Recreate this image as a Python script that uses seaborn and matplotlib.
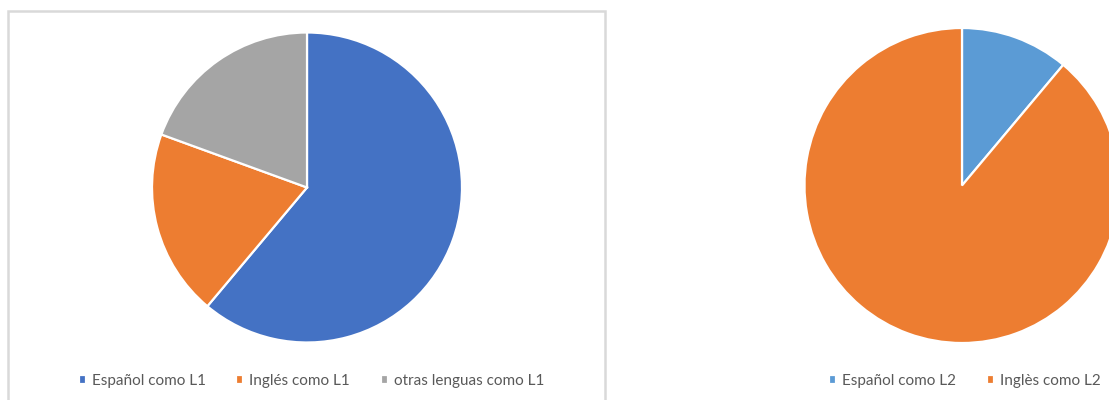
import matplotlib
matplotlib.use("Agg")
import matplotlib.pyplot as plt
from matplotlib.patches import Rectangle
import seaborn as sns

# respondents per first / second language (counts)
l1_labels = ["Español como L1", "Inglés como L1", "otras lenguas como L1"]
l1_counts = [22, 7, 7]

l2_labels = ["Español como L2", "Inglès como L2"]
l2_counts = [4, 32]

l1_colors = ["#4472C4", "#ED7D31", "#A5A5A5"]
l2_colors = ["#5B9BD5", "#ED7D31"]

sns.set_theme(style="white")
plt.rcParams["font.family"] = ["Lato", "DejaVu Sans"]

W, H = 1109, 400
fig = plt.figure(figsize=(W / 100, H / 100), dpi=100)
fig.patch.set_facecolor("white")

# chart frame around the left pie (excel style)
fig.patches.append(Rectangle((8 / W, -0.05), (605 - 8) / W, (400 - 11) / H + 0.05,
                             transform=fig.transFigure, fill=False,
                             edgecolor="#d9d9d9", linewidth=1.8, zorder=0))


def draw_pie(rect, counts, colors):
    ax = fig.add_axes(rect)
    wedges, _ = ax.pie(counts, colors=colors, startangle=90, counterclock=False,
                       radius=1.0, wedgeprops=dict(edgecolor="white", linewidth=1.6))
    ax.set_xlim(-1, 1)
    ax.set_ylim(-1, 1)
    ax.set_aspect("equal")
    ax.axis("off")
    return wedges


w1 = draw_pie([152 / W, (400 - 342.5) / H, 310 / W, 310 / H], l1_counts, l1_colors)
w2 = draw_pie([804.5 / W, (400 - 343) / H, 315 / W, 315 / H], l2_counts, l2_colors)

leg_kw = dict(loc="center", frameon=False, fontsize=11, labelcolor="#595959",
              handlelength=0.45, handleheight=0.45, handletextpad=0.4,
              columnspacing=2.0)
fig.legend(w1, l1_labels, ncol=3, bbox_to_anchor=(311.5 / W, (400 - 381) / H), **leg_kw)
fig.legend(w2, l2_labels, ncol=2, bbox_to_anchor=(965 / W, (400 - 381) / H), **leg_kw)

fig.savefig("out.png", dpi=100, facecolor="white")
